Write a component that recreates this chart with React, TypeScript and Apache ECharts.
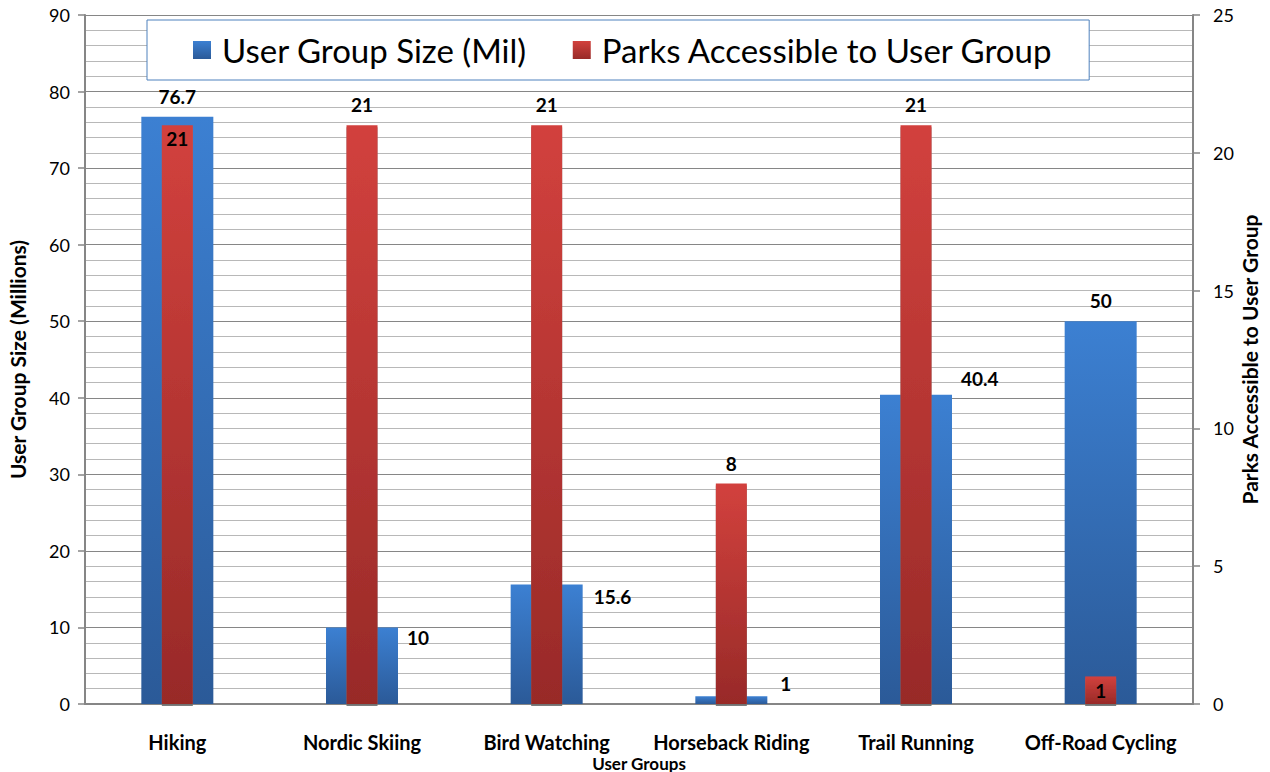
import React, { useEffect, useRef } from "react";
import * as echarts from "echarts";

const categories = ["Hiking", "Nordic Skiing", "Bird Watching", "Horseback Riding", "Trail Running", "Off-Road Cycling"];
const userGroupSize = [76.7, 10, 15.6, 1, 40.4, 50];
const parksAccessible = [21, 21, 21, 8, 21, 1];
const leftTicks = { min: 0, max: 90, interval: 10 };
const rightTicks = { min: 0, max: 25, interval: 5 };

const FONT = "Lato";

// label placement per bar (styling only)
const blueLabelPos: any[] = [
  { position: "top", distance: 11 },
  { position: ["100%", 10], offset: [9, 0], align: "left", verticalAlign: "middle" },
  { position: ["100%", 11.5], offset: [11, 0], align: "left", verticalAlign: "middle" },
  { position: ["100%", -13], offset: [13, 0], align: "left", verticalAlign: "middle" },
  { position: ["100%", -16], offset: [9, 0], align: "left", verticalAlign: "middle" },
  { position: "top", distance: 11 },
];
const redLabelPos: any[] = [
  { position: "insideTop", distance: 4 },
  { position: "top", distance: 11 },
  { position: "top", distance: 11 },
  { position: "top", distance: 11 },
  { position: "top", distance: 11 },
  { position: "inside" },
];

export default function App() {
  const ref = useRef<HTMLDivElement>(null);
  useEffect(() => {
    document.body.style.margin = "0";
    const chart = echarts.init(ref.current!, undefined, { renderer: "svg" });
    const labelBase = { show: true, fontFamily: FONT, fontWeight: "bold", fontSize: 19, color: "#000" };
    const blue = new echarts.graphic.LinearGradient(0, 0, 0, 1, [
      { offset: 0, color: "#3c80d2" },
      { offset: 1, color: "#2b5a98" },
    ]);
    const red = new echarts.graphic.LinearGradient(0, 0, 0, 1, [
      { offset: 0, color: "#d2413d" },
      { offset: 1, color: "#982a28" },
    ]);
    chart.setOption({
      animation: false,
      textStyle: { fontFamily: FONT },
      legend: {
        left: 147,
        top: 20,
        icon: "rect",
        itemWidth: 18,
        itemHeight: 18,
        itemGap: 46,
        backgroundColor: "#fff",
        borderColor: "#4f81bd",
        borderWidth: 1,
        padding: [13, 36, 13, 46],
        textStyle: { fontFamily: FONT, fontSize: 33, color: "#000", lineHeight: 34, padding: [0, 0, 0, 6] },
        data: ["User Group Size (Mil)", "Parks Accessible to User Group"],
      },
      grid: { left: 85, right: 77, top: 15, bottom: 68, containLabel: false, outerBoundsMode: "none" },
      xAxis: [
        {
          type: "category",
          data: categories,
          name: "User Groups",
          nameLocation: "middle",
          nameGap: 59,
          nameMoveOverlap: false,
          nameTextStyle: { fontFamily: FONT, fontWeight: "bold", fontSize: 17, color: "#000", verticalAlign: "middle" },
          axisLine: { lineStyle: { color: "#868686", width: 2 } },
          axisTick: { show: false },
          axisLabel: { interval: 0, margin: 28, fontFamily: FONT, fontWeight: "bold", fontSize: 20, color: "#000" },
        },
        {
          type: "category",
          data: categories,
          show: false,
          position: "bottom",
        },
      ],
      yAxis: [
        {
          type: "value",
          ...leftTicks,
          name: "User Group Size (Millions)",
          nameLocation: "middle",
          nameGap: 57,
          nameMoveOverlap: false,
          nameTextStyle: { fontFamily: FONT, fontWeight: "bold", fontSize: 21, color: "#000" },
          axisLine: { show: true, lineStyle: { color: "#868686", width: 2 } },
          axisTick: { show: true, length: 7, lineStyle: { color: "#868686", width: 1.5 } },
          axisLabel: { margin: 15, fontFamily: FONT, fontSize: 18, color: "#000" },
          splitLine: { show: true, lineStyle: { color: "#868686", width: 1.2 } },
          minorTick: { show: false, splitNumber: 5 },
          minorSplitLine: { show: true, lineStyle: { color: "#b8b8b8", width: 1 } },
        },
        {
          type: "value",
          ...rightTicks,
          position: "right",
          name: "Parks Accessible to User Group",
          nameLocation: "middle",
          nameGap: 46,
          nameMoveOverlap: false,
          nameTextStyle: { fontFamily: FONT, fontWeight: "bold", fontSize: 21, color: "#000" },
          axisLine: { show: true, lineStyle: { color: "#868686", width: 2 } },
          axisTick: { show: true, length: 7, lineStyle: { color: "#868686", width: 1.5 } },
          axisLabel: { margin: 20, fontFamily: FONT, fontSize: 18, color: "#000" },
          splitLine: { show: false },
        },
      ],
      series: [
        {
          name: "User Group Size (Mil)",
          type: "bar",
          xAxisIndex: 0,
          yAxisIndex: 0,
          barWidth: 72,
          itemStyle: { color: blue },
          label: { ...labelBase },
          data: userGroupSize.map((v, i) => ({ value: v, label: { ...labelBase, ...blueLabelPos[i] } })),
          z: 2,
        },
        {
          name: "Parks Accessible to User Group",
          type: "bar",
          xAxisIndex: 1,
          yAxisIndex: 1,
          barWidth: 31,
          itemStyle: { color: red, shadowColor: "rgba(110,110,110,0.9)", shadowOffsetY: 2, shadowBlur: 0 },
          label: { ...labelBase },
          data: parksAccessible.map((v, i) => ({ value: v, label: { ...labelBase, ...redLabelPos[i] } })),
          z: 3,
        },
      ],
    });
    return () => chart.dispose();
  }, []);
  return <div ref={ref} style={{ width: 1270, height: 772 }} />;
}
